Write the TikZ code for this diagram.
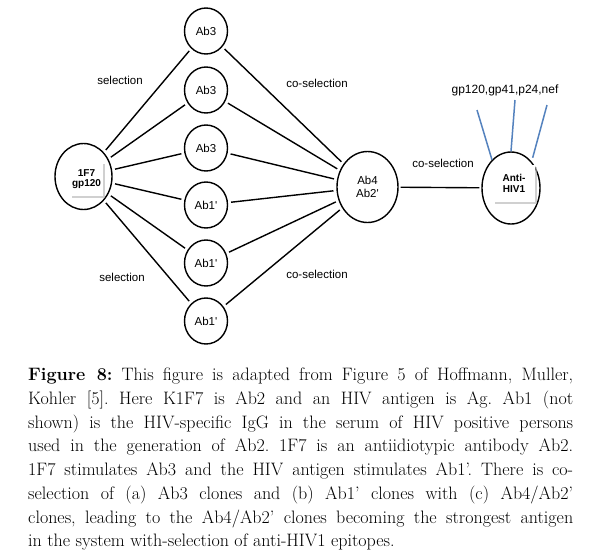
\documentclass[tikz,border=0pt]{standalone}
\usepackage{fontspec}
\newfontfamily\diagfont{Liberation Sans}
\usepackage{tikz}
\usetikzlibrary{shapes.geometric,shadows}
\definecolor{epiblue}{RGB}{84,130,190}

\begin{document}
\begin{tikzpicture}[x=1pt,y=-1pt,
    clone/.style={draw,line width=1.4pt,ellipse,inner sep=0pt,minimum width=43pt,minimum height=46pt,
        font=\diagfont\fontsize{11.5}{13.5}\selectfont,align=center},
    hub/.style={clone,minimum width=60pt,minimum height=70pt},
    tagbox/.style={fill=white,inner sep=0pt,align=center,
        drop shadow={shadow xshift=1.5pt,shadow yshift=-1.5pt,fill=black!30,opacity=.6},
        font=\diagfont\bfseries\fontsize{10}{10.5}\selectfont},
    link/.style={line width=1.4pt,shorten <=3pt,shorten >=3pt},
    lbl/.style={font=\diagfont\fontsize{11.5}{13}\selectfont}]
    \useasboundingbox[fill=white] (0,0) rectangle (598,558);

    % left and right hubs
    \node[hub,minimum width=57pt,minimum height=66pt] (f7) at (83.5,176.5) {};
    \node[tagbox,minimum width=33pt,minimum height=34pt] (f7txt) at (86.5,179) {1F7\\gp120};
    \node[hub,minimum width=61pt,minimum height=71pt] (ab4) at (367.5,187) {Ab4\\Ab2'};
    \node[hub,minimum width=58pt,minimum height=72pt] (anti) at (511,188) {};
    \node[tagbox,minimum width=42pt,minimum height=37pt] (antitxt) at (514,183.5) {Anti-\\HIV1};

    % clones in the middle column
    \foreach \y/\name/\txt in {31/c1/Ab3,90/c2/Ab3,148/c3/Ab3,205/c4/Ab1',263/c5/Ab1',321/c6/Ab1'}{
        \node[clone] (\name) at (206,\y) {\txt};
        \draw[link] (f7) -- (\name);
        \draw[link] (\name) -- (ab4);
    }
    \draw[link,shorten <=2pt,shorten >=2pt] (ab4) -- (anti);

    \node[lbl] (sel1) at (120,80) {selection};
    \node[lbl] (sel2) at (122,277) {selection};
    \node[lbl] (cosel1) at (317,83) {co-selection};
    \node[lbl] (cosel2) at (317,274) {co-selection};
    \node[lbl] (cosel3) at (443,163) {co-selection};

    % epitopes
    \node[lbl,font=\diagfont\fontsize{12}{14}\selectfont] (epi) at (505,90) {gp120,gp41,p24,nef};
    \coordinate (ep1) at (477,110);
    \coordinate (ep2) at (515,100);
    \coordinate (ep3) at (547,105);
    \draw[epiblue,line width=1.5pt] (ep1) -- (anti.124);
    \draw[epiblue,line width=1.5pt] (ep2) -- (anti.90);
    \draw[epiblue,line width=1.5pt,shorten >=4pt] (ep3) -- (anti.52);

    \node[anchor=north west,inner sep=0pt,text width=545pt,align=justify,
        font=\fontsize{18}{23.7}\selectfont\frenchspacing] (caption) at (28,368)
        {\textbf{Figure 8:} This figure is adapted from Figure 5 of Hoffmann, Muller,\linebreak
        Kohler [5]. Here K1F7 is Ab2 and an HIV antigen is Ag. Ab1 (not\linebreak
        shown) is the HIV-specific IgG in the serum of HIV positive persons\linebreak
        used in the generation of Ab2. 1F7 is an antiidiotypic antibody Ab2.\linebreak
        1F7 stimulates Ab3 and the HIV antigen stimulates Ab1’. There is co-\linebreak
        selection of (a) Ab3 clones and (b) Ab1’ clones with (c) Ab4/Ab2’\linebreak
        clones, leading to the Ab4/Ab2’ clones becoming the strongest antigen\linebreak
        in the system with-selection of anti-HIV1 epitopes.};
\end{tikzpicture}
\end{document}
